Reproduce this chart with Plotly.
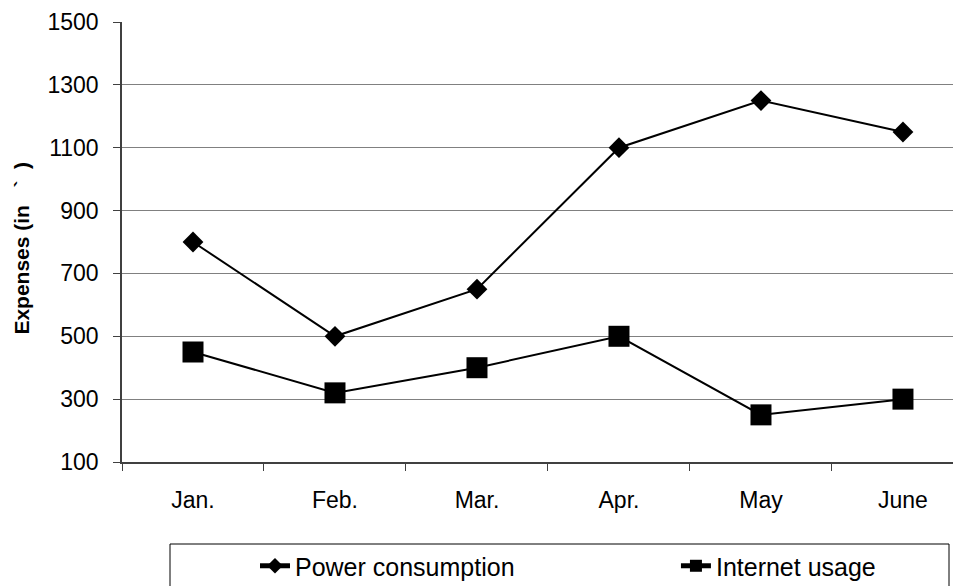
import plotly.graph_objects as go

months = ["Jan.", "Feb.", "Mar.", "Apr.", "May", "June"]
power = [800, 500, 650, 1100, 1250, 1150]
internet = [450, 320, 400, 500, 250, 300]
y_ticks = [100, 300, 500, 700, 900, 1100, 1300, 1500]

FONT = "Liberation Sans, Arial, sans-serif"

fig = go.Figure()
fig.add_trace(go.Scatter(
    x=months, y=power, name="Power consumption", mode="lines+markers",
    line=dict(color="black", width=2),
    marker=dict(symbol="diamond", size=16, color="black"),
    legend="legend",
))
fig.add_trace(go.Scatter(
    x=months, y=internet, name="Internet usage", mode="lines+markers",
    line=dict(color="black", width=2),
    marker=dict(symbol="square", size=21, color="black"),
    legend="legend2",
))

legend_common = dict(
    orientation="h", xanchor="left", yanchor="middle",
    font=dict(family=FONT, size=25, color="black"),
    bgcolor="rgba(0,0,0,0)", borderwidth=0, itemsizing="constant",
)

fig.update_layout(
    width=961, height=586,
    margin=dict(l=114, r=0, t=14, b=132, autoexpand=False),
    paper_bgcolor="white", plot_bgcolor="white",
    font=dict(family=FONT, size=23, color="black"),
    showlegend=True,
    legend=dict(x=0.1570, y=-0.2364, **legend_common),
    legend2=dict(x=0.6540, y=-0.2364, **legend_common),
    xaxis=dict(
        type="category", range=[-0.5, 5.465], automargin=False,
        showline=True, linecolor="#404040", linewidth=1.5,
        ticks="outside", tickson="boundaries", ticklen=7, tickcolor="#404040",
        showgrid=False, ticklabelstandoff=17, fixedrange=True,
    ),
    yaxis=dict(
        range=[100, 1500], tickvals=y_ticks, automargin=False,
        showline=True, linecolor="#404040", linewidth=1.5,
        ticks="outside", ticklen=7, tickcolor="#404040",
        showgrid=True, gridcolor="#808080", gridwidth=1,
        zeroline=False, ticklabelstandoff=10,
    ),
    shapes=[dict(
        type="rect", xref="paper", yref="paper",
        x0=(162 - 114) / 847, x1=(941 - 114) / 847,
        y0=(454 - 536) / 440, y1=(454 - 620) / 440,
        line=dict(color="black", width=1), fillcolor="rgba(0,0,0,0)",
    )],
    annotations=[dict(
        text="<b>Expenses (in   `  )</b>", textangle=-90,
        xref="paper", yref="paper", x=(14 - 114) / 847, y=0.485,
        xanchor="center", yanchor="middle", showarrow=False,
        font=dict(family=FONT, size=21, color="black"),
    )],
)

fig.write_html("out.html")
